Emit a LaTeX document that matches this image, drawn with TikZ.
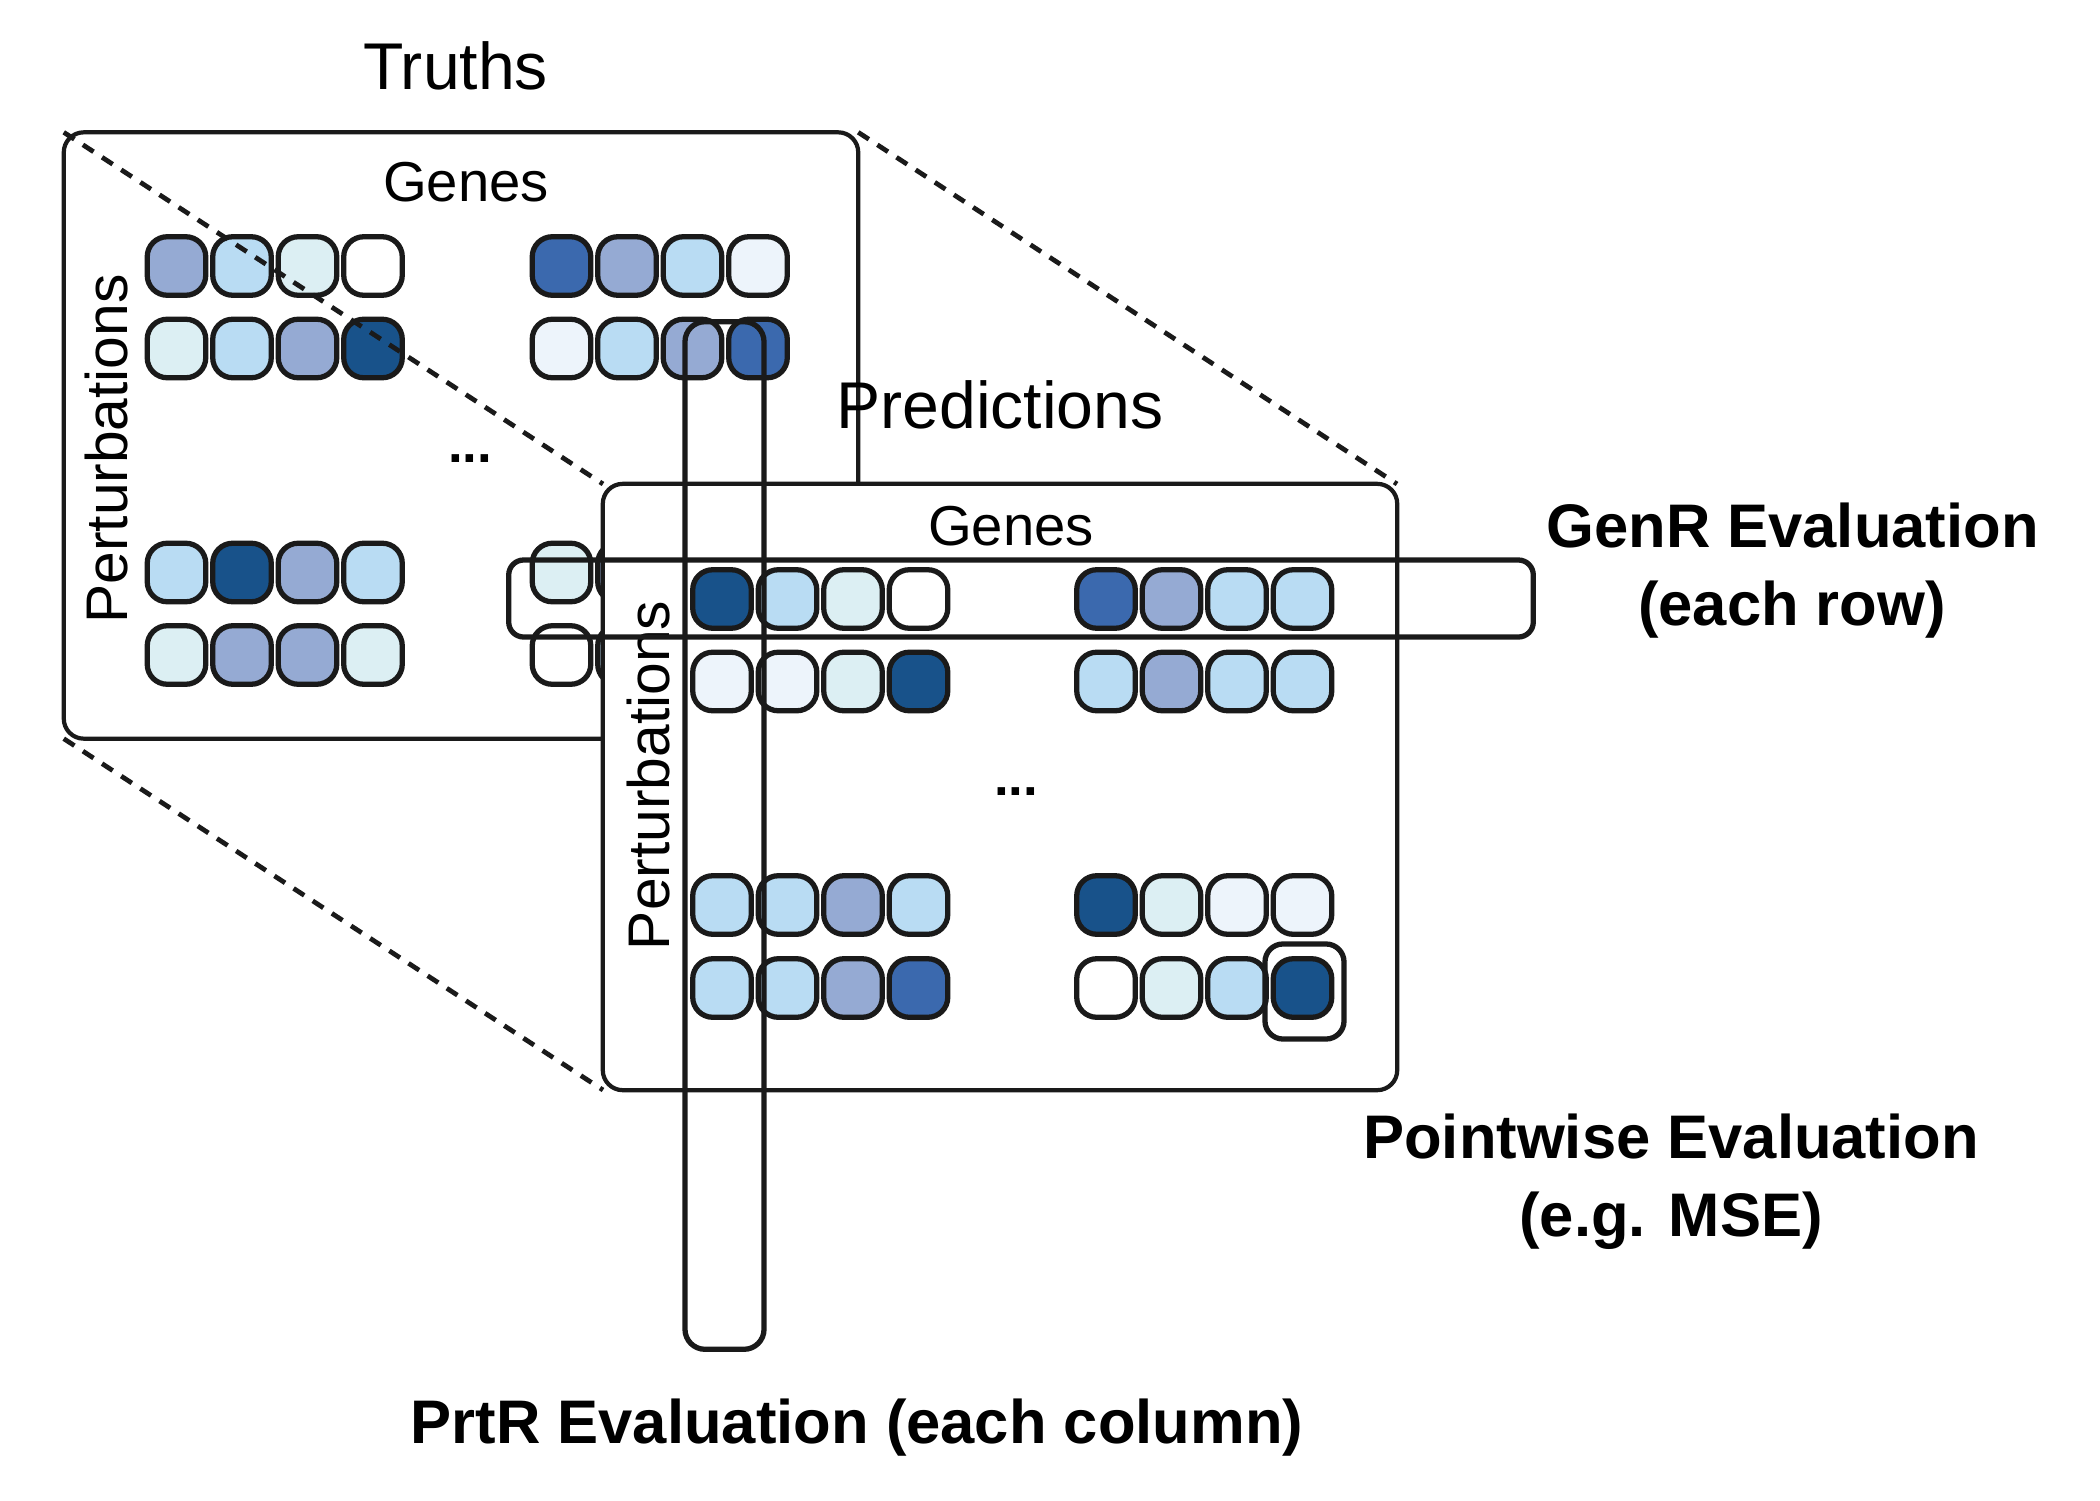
\documentclass[tikz,border=0pt]{standalone}
\usepackage{fontspec}
\setmainfont{Liberation Sans}
\usepackage{xcolor}
\usepackage{tikz}

\definecolor{ink}{HTML}{1A1A1A}
\definecolor{heat0}{HTML}{FFFFFF}
\definecolor{heat1}{HTML}{EDF4FB}
\definecolor{heat2}{HTML}{DCEFF3}
\definecolor{heat3}{HTML}{B9DCF3}
\definecolor{heat4}{HTML}{95AAD3}
\definecolor{heat5}{HTML}{3B69AE}
\definecolor{heat6}{HTML}{18528A}

\begin{document}
\begin{tikzpicture}[
  x=0.01cm, y=-0.01cm,
  panel/.style={rectangle, draw=ink, fill=white, line width=1.2pt, rounded corners=0.2cm,
    minimum width=7.94cm, minimum height=6.06cm, inner sep=0pt, outer sep=0pt},
  cell/.style={rectangle, draw=ink, line width=1.5pt, rounded corners=0.2cm, minimum size=0.585cm, inner sep=0pt},
  title/.style={font=\fontsize{18.8}{22}\selectfont, anchor=base},
  axis/.style={font=\fontsize{16}{19}\selectfont, anchor=base},
  sideaxis/.style={font=\fontsize{16.7}{19}\selectfont, anchor=base, rotate=90},
  evalbox/.style={rectangle, draw=ink, line width=1.5pt, rounded corners=0.15cm, inner sep=0pt, outer sep=0pt},
  evallabel/.style={font=\bfseries\fontsize{17.5}{21}\selectfont, anchor=base},
  zoomline/.style={draw=ink, line width=1.35pt, dash pattern=on 3.6pt off 2.9pt}
]
  \useasboundingbox (0,0) rectangle (2100,1500);

  % truths panel
  \node[title] (ttitle) at (455.5,90) {Truths};
  \node[panel] (tbox) at (461,435.5) {};
  \node[axis] (tgenes) at (466,202) {Genes};
  \node[sideaxis] (tpert) at (127,449) {Perturbations};
  \node[axis, anchor=center, font=\bfseries\fontsize{15}{18}\selectfont] (tdots) at (470,459) {...};

  \foreach \c [count=\i] in {heat4,heat3,heat2,heat0}
    \node[cell, fill=\c] (t-1-\i) at (111+65.5*\i,266) {};
  \foreach \c [count=\i from 5] in {heat5,heat4,heat3,heat1}
    \node[cell, fill=\c] (t-1-\i) at (234+65.5*\i,266) {};
  \foreach \c [count=\i] in {heat2,heat3,heat4,heat6}
    \node[cell, fill=\c] (t-2-\i) at (111+65.5*\i,348.5) {};
  \foreach \c [count=\i from 5] in {heat1,heat3,heat4,heat5}
    \node[cell, fill=\c] (t-2-\i) at (234+65.5*\i,348.5) {};
  \foreach \c [count=\i] in {heat3,heat6,heat4,heat3}
    \node[cell, fill=\c] (t-3-\i) at (111+65.5*\i,572.5) {};
  \foreach \c [count=\i from 5] in {heat2,heat4}
    \node[cell, fill=\c] (t-3-\i) at (234+65.5*\i,572.5) {};
  \foreach \c [count=\i] in {heat2,heat4,heat4,heat2}
    \node[cell, fill=\c] (t-4-\i) at (111+65.5*\i,655) {};
  \foreach \c [count=\i from 5] in {heat0,heat3}
    \node[cell, fill=\c] (t-4-\i) at (234+65.5*\i,655) {};

  % corners of the predictions panel
  \coordinate (pnw) at (603,484);
  \coordinate (pne) at (1397,484);
  \coordinate (psw) at (603,1090);

  \draw[zoomline] (tbox.north west) -- (pnw);
  \draw[zoomline] (tbox.north east) -- (pne);
  \draw[zoomline] (tbox.south west) -- (psw);

  % predictions panel
  \node[title] (ptitle) at (1000,428) {Predictions};
  \node[panel] (pbox) at (1000,787) {};
  \node[axis] (pgenes) at (1011,545) {Genes};
  \node[sideaxis] (ppert) at (669,775.5) {Perturbations};
  \node[axis, anchor=center, font=\bfseries\fontsize{15}{18}\selectfont] (pdots) at (1016,792) {...};

  \foreach \c [count=\i] in {heat6,heat3,heat2,heat0}
    \node[cell, fill=\c] (p-1-\i) at (656.5+65.5*\i,599) {};
  \foreach \c [count=\i from 5] in {heat5,heat4,heat3,heat3}
    \node[cell, fill=\c] (p-1-\i) at (778.5+65.5*\i,599) {};
  \foreach \c [count=\i] in {heat1,heat1,heat2,heat6}
    \node[cell, fill=\c] (p-2-\i) at (656.5+65.5*\i,681.5) {};
  \foreach \c [count=\i from 5] in {heat3,heat4,heat3,heat3}
    \node[cell, fill=\c] (p-2-\i) at (778.5+65.5*\i,681.5) {};
  \foreach \c [count=\i] in {heat3,heat3,heat4,heat3}
    \node[cell, fill=\c] (p-3-\i) at (656.5+65.5*\i,905) {};
  \foreach \c [count=\i from 5] in {heat6,heat2,heat1,heat1}
    \node[cell, fill=\c] (p-3-\i) at (778.5+65.5*\i,905) {};
  \foreach \c [count=\i] in {heat3,heat3,heat4,heat5}
    \node[cell, fill=\c] (p-4-\i) at (656.5+65.5*\i,988) {};
  \foreach \c [count=\i from 5] in {heat0,heat2,heat3,heat6}
    \node[cell, fill=\c] (p-4-\i) at (778.5+65.5*\i,988) {};

  % evaluation boxes
  \node[evalbox, minimum width=10.24cm, minimum height=0.77cm] (genrbox) at (1021,598.5) {};
  \node[evalbox, minimum width=0.79cm, minimum height=10.27cm, rounded corners=0.2cm] (prtrbox) at (724.5,835.5) {};
  \node[evalbox, minimum width=0.79cm, minimum height=0.95cm, rounded corners=0.18cm] (pwbox) at (1304.5,991.5) {};

  \node[evallabel] (genrlbl) at (1792.5,547) {GenR Evaluation};
  \node[evallabel] (genrsub) at (1792,625) {(each row)};
  \node[evallabel] (pwlbl) at (1671,1158) {Pointwise Evaluation};
  \node[evallabel] (pwsub) at (1671,1236) {(e.g. MSE)};
  \node[evallabel] (prtrlbl) at (857,1443) {PrtR Evaluation (each column)};
\end{tikzpicture}
\end{document}
